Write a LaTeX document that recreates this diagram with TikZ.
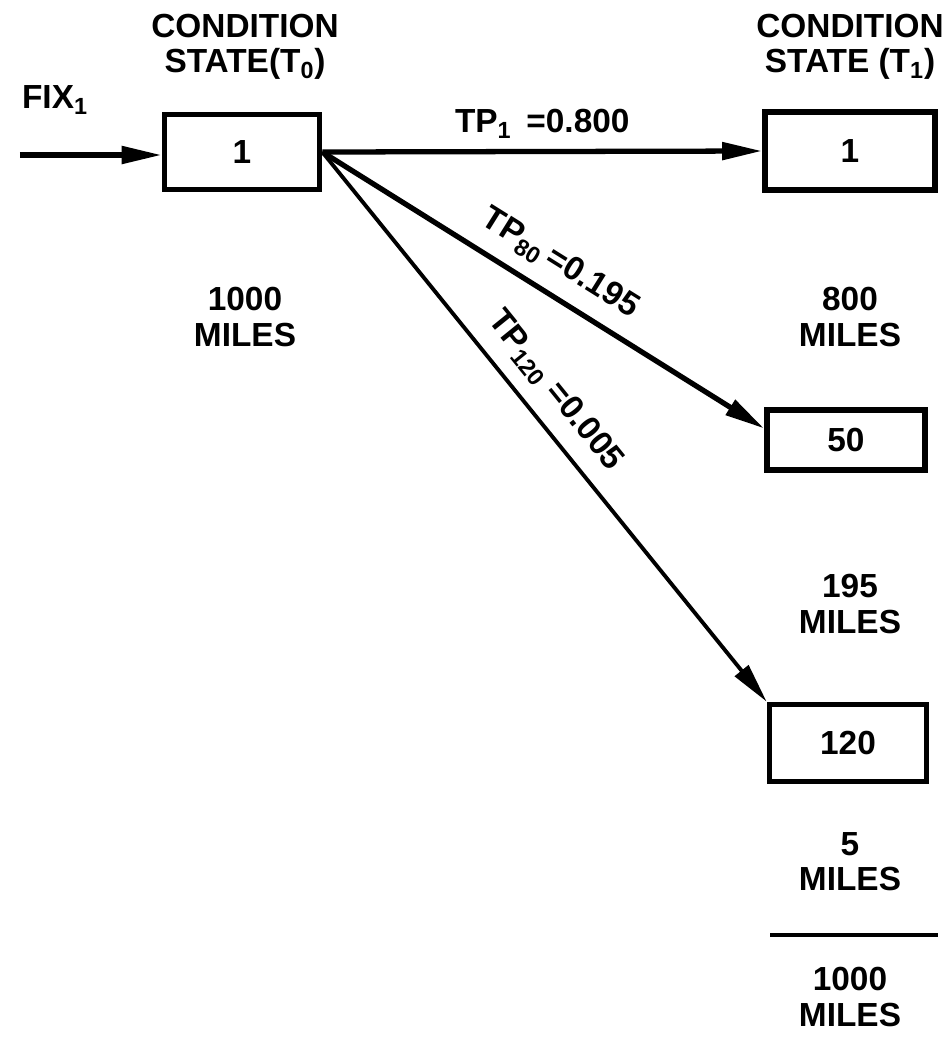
\documentclass[tikz,border=0pt]{standalone}
\usepackage{fontspec}
\setmainfont{Liberation Sans}
\usetikzlibrary{arrows.meta, positioning, calc}

\begin{document}
\begin{tikzpicture}[
    %% Styles
    stbox/.style={
      rectangle, draw, line width=3.2pt,
      minimum width=3.1cm, minimum height=1.5cm,
      inner sep=2pt, text centered,
      font=\fontsize{19}{20}\selectfont\bfseries
    },
    txt/.style={
      align=center, inner sep=1pt,
      font=\fontsize{19}{20}\selectfont\bfseries
    },
    arrow/.style={-{Triangle[length=0.8cm, width=0.34cm]}, line width=3pt},
    tplbl/.style={txt, sloped, above, inner sep=8pt}
  ]

  \useasboundingbox (0,0) rectangle (18.86,-20.8);

  %% ── Headers ─────────────────────────────────────────────
  \node[txt] (hdr0) at (4.9,-0.94) {CONDITION\\STATE(T\textsubscript{0})};
  \node[txt] (hdr1) at (17.0,-0.94) {CONDITION\\STATE (T\textsubscript{1})};

  %% ── Input ───────────────────────────────────────────────
  \node[txt] (fix) at (1.1,-2.0) {FIX\textsubscript{1}};
  \coordinate (in) at (0.4,-3.1);

  %% ── States at T0 / T1 ───────────────────────────────────
  \node[stbox] (s0) at (4.84,-3.04) {1};
  \node[stbox, minimum width=3.4cm, minimum height=1.56cm] (s1) at (17.0,-3.02) {1};
  \node[stbox, minimum width=3.16cm, minimum height=1.2cm] (s50) at (16.92,-8.8) {50};
  \node[stbox, minimum width=3.14cm, minimum height=1.54cm] (s120) at (16.96,-14.86) {120};

  %% ── Miles ───────────────────────────────────────────────
  \node[txt] (m0) at (4.9,-6.34) {1000\\MILES};
  \node[txt] (m1) at (17.0,-6.34) {800\\MILES};
  \node[txt] (m50) at (17.0,-12.08) {195\\MILES};
  \node[txt] (m120) at (17.0,-17.24) {5\\MILES};
  \node[txt] (total) at (17.0,-19.94) {1000\\MILES};

  % sum rule
  \draw[line width=2pt] (15.4,-18.7) -- (18.76,-18.7);

  %% ── Arrows ──────────────────────────────────────────────
  \draw[arrow] (in) -- (s0.west |- in);
  \draw[arrow] (s0.east) -- (s1.west)
    node[txt, midway, above, inner sep=6pt] {TP\textsubscript{1} \,=0.800};
  \draw[arrow] (s0.east) -- (s50.172)
    node[tplbl, pos=0.5] {TP\textsubscript{80}\,=0.195};
  \draw[arrow, line width=2.2pt] (s0.east) -- (s120.north west)
    node[tplbl, pos=0.47] {TP\textsubscript{120} =0.005};

\end{tikzpicture}
\end{document}
